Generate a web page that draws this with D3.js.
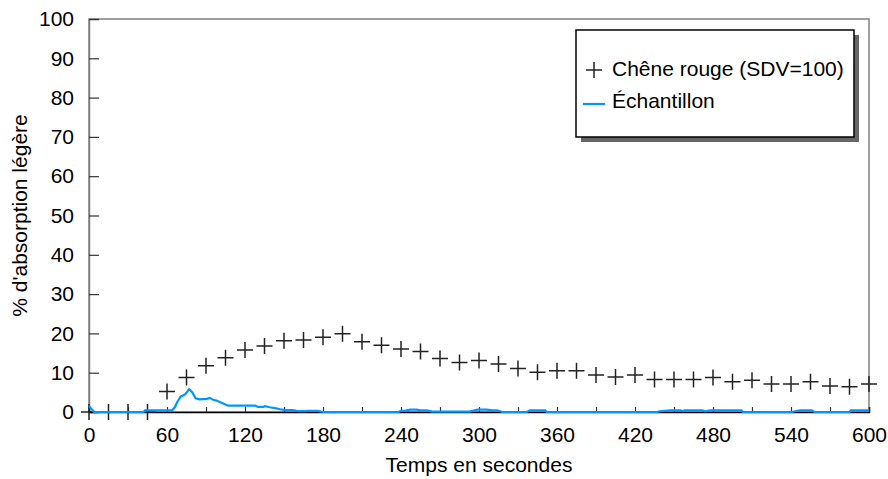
<!DOCTYPE html>
<html>
<head>
<meta charset="utf-8">
<script src="https://cdn.jsdelivr.net/npm/d3@7"></script>
<style>
  body { margin: 0; background: #fff; }
  svg { display: block; font-family: "Liberation Sans", Arial, sans-serif; }
</style>
</head>
<body>
<div class="box"></div>
<script>
// données
const tempsChene = d3.range(0, 601, 15);
const valeursChene = [0, 0, 0, 0, 5.2, 8.8, 11.8, 13.8, 15.8, 16.8, 18.1, 18.3, 19.0, 19.9,
  17.9, 17.0, 16.0, 15.4, 13.6, 12.6, 13.1, 12.2, 11.1, 10.1, 10.5, 10.5, 9.4, 8.9,
  9.4, 8.3, 8.3, 8.3, 8.8, 7.7, 8.1, 7.1, 7.1, 7.7, 6.6, 6.4, 7.1];

const tempsEch = [0, 4, 42, 43, 64, 66, 68, 70.5, 74, 77, 79.5, 82, 85, 88, 90, 93, 95.5, 98, 101,
  104.5, 107, 128, 130, 134, 135.5, 139, 143, 147, 151, 156, 158, 161, 166, 168, 176, 180,
  238, 240, 243, 247, 252, 255, 260, 264, 293, 295, 299, 306, 310, 314, 318, 337, 339, 351,
  352, 437, 439, 447, 455, 457, 458, 472, 474, 478, 502, 503, 541, 543, 547, 556, 558, 585,
  586, 600];
const valeursEch = [1.5, 0, 0, 0.4, 0.4, 1.2, 2.6, 3.9, 4.5, 5.8, 5.0, 3.5, 3.2, 3.3, 3.3, 3.6, 3.1,
  2.9, 2.5, 2.0, 1.6, 1.6, 1.3, 1.3, 1.5, 1.2, 1.0, 0.7, 0.5, 0.5, 0.4, 0.2, 0.2, 0.3, 0.3, 0,
  0, 0.3, 0.3, 0.6, 0.6, 0.4, 0.4, 0.1, 0.1, 0.3, 0.6, 0.6, 0.4, 0.4, 0, 0, 0.4, 0.4,
  0, 0, 0.2, 0.4, 0.4, 0.2, 0.4, 0.4, 0.15, 0.4, 0.4, 0, 0, 0.2, 0.4, 0.4, 0, 0,
  0.4, 0.4];

const ticksX = d3.range(0, 601, 30);
const ticksY = d3.range(0, 101, 10);
const nomsSeries = ['Chêne rouge (SDV=100)', 'Échantillon'];

const dims = {width: 888, height: 479, left: 89, right: 869, top: 19, bottom: 412};
const bleu = '#0096ff';

const svg = d3.select('.box')
              .append('svg')
              .attr('width', dims.width)
              .attr('height', dims.height);

const x = d3.scaleLinear().domain([0, 600]).range([dims.left, dims.right]);
const y = d3.scaleLinear().domain([0, 100]).range([dims.bottom, dims.top]);

// cadre
svg.append('rect')
   .attr('x', dims.left).attr('y', dims.top)
   .attr('width', dims.right - dims.left).attr('height', dims.bottom - dims.top)
   .attr('fill', 'none').attr('stroke', '#808080').attr('stroke-width', 1.5);

// axe y
const axeY = svg.append('g')
                .attr('transform', `translate(${dims.left}, 0)`)
                .call(d3.axisLeft(y).tickValues(ticksY).tickSize(-10).tickPadding(15));
axeY.select('.domain').attr('stroke', '#808080').attr('stroke-width', 1.5);
axeY.selectAll('.tick line').attr('stroke', '#333').attr('stroke-width', 1.2);
axeY.selectAll('text').attr('font-size', 21).attr('fill', '#000')
    .style('font-family', '"Liberation Sans", Arial, sans-serif');

// axe x
const axeX = svg.append('g')
                .attr('transform', `translate(0, ${dims.bottom})`)
                .call(d3.axisBottom(x).tickValues(ticksX).tickSize(-5).tickPadding(15)
                        .tickFormat(d => d % 60 === 0 ? d : ''));
axeX.select('.domain').attr('stroke', '#000').attr('stroke-width', 1.5);
axeX.selectAll('.tick line').attr('stroke', '#333').attr('stroke-width', 1.2);
axeX.selectAll('text').attr('font-size', 21).attr('fill', '#000')
    .style('font-family', '"Liberation Sans", Arial, sans-serif');

// titres
svg.append('text')
   .attr('x', (dims.left + dims.right) / 2).attr('y', 472)
   .attr('text-anchor', 'middle').attr('font-size', 21)
   .text('Temps en secondes');

svg.append('text')
   .attr('transform', `translate(27, ${(dims.top + dims.bottom) / 2}) rotate(-90)`)
   .attr('text-anchor', 'middle').attr('font-size', 21)
   .text("% d'absorption légère");

// croix
const croix = (g, cx, cy, r) => {
    g.append('path')
     .attr('d', `M${cx - r},${cy}H${cx + r}M${cx},${cy - r}V${cy + r}`)
     .attr('stroke', '#222').attr('stroke-width', 1.5).attr('fill', 'none');
};

const gChene = svg.append('g');
tempsChene.forEach((t, i) => croix(gChene, x(t), y(valeursChene[i]), 8));

// courbe échantillon
const ligne = d3.line()
                .x(d => x(d[0]))
                .y(d => y(d[1]));

svg.append('path')
   .datum(d3.zip(tempsEch, valeursEch))
   .attr('d', ligne)
   .attr('fill', 'none')
   .attr('stroke', bleu)
   .attr('stroke-width', 2.2);

// légende
const leg = {x: 576, y: 30, w: 278, h: 107};
svg.append('rect')
   .attr('x', leg.x + 5).attr('y', leg.y + 5).attr('width', leg.w).attr('height', leg.h)
   .attr('fill', '#666');
svg.append('rect')
   .attr('x', leg.x).attr('y', leg.y).attr('width', leg.w).attr('height', leg.h)
   .attr('fill', '#fff').attr('stroke', '#000').attr('stroke-width', 1.5);

const gLeg = svg.append('g');
croix(gLeg, 594, 70, 8);
gLeg.append('line')
    .attr('x1', 583).attr('x2', 605).attr('y1', 104).attr('y2', 104)
    .attr('stroke', bleu).attr('stroke-width', 2.2);
gLeg.selectAll('text.nom')
    .data(nomsSeries)
    .enter()
    .append('text')
    .attr('class', 'nom')
    .attr('x', 612)
    .attr('y', (d, i) => 76 + i * 32)
    .attr('font-size', 21)
    .text(d => d);
</script>
</body>
</html>
